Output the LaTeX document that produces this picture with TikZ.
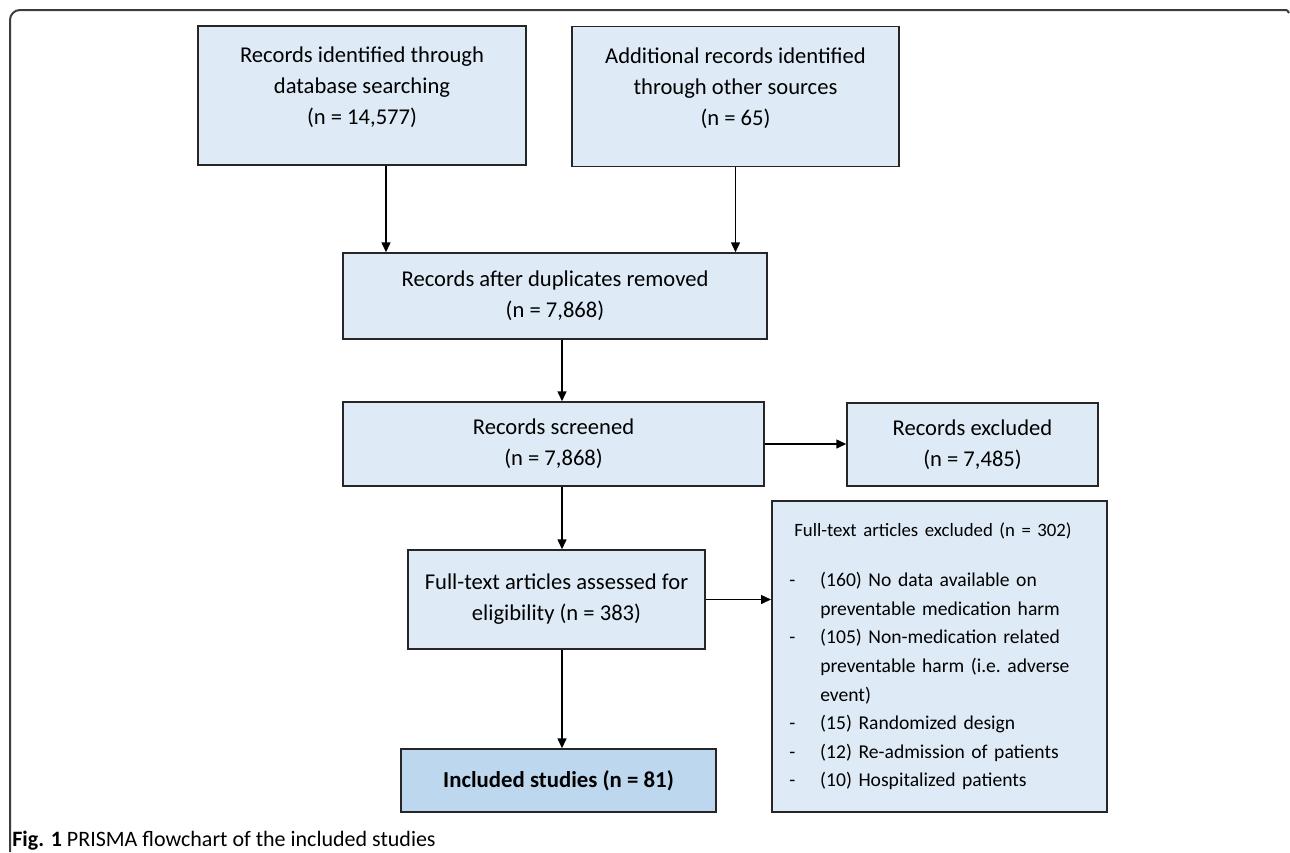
\documentclass[tikz,border=0pt]{standalone}
\usepackage{fontspec}
\setmainfont{Carlito}
\usetikzlibrary{arrows.meta}
\definecolor{boxfill}{HTML}{DEEBF7}
\definecolor{keyfill}{HTML}{BDD7EE}
\definecolor{boxline}{HTML}{262626}
\definecolor{framegray}{HTML}{3C3C3C}
\tikzset{
	stage/.style={draw=boxline,line width=0.75pt,fill=boxfill,align=center,inner sep=0pt,
		font=\fontsize{11.3}{15.5}\selectfont},
	flow/.style={-{Triangle[length=5pt,width=4.5pt]},line width=0.75pt}
}
\begin{document}
\begin{tikzpicture}[x=0.5pt,y=-0.5pt]
	\useasboundingbox (0,0) rectangle (1290,852);
	\draw[framegray,line width=1pt,rounded corners=5pt] (10,852)--(10,10)--(1287,10);
	\draw[framegray,line width=1pt] (1287,10)--(1289,13);
	\node[stage,minimum width=164pt,minimum height=69.5pt,text depth=10pt] (b1) at (362,95.5)
		{Records identified through\\database searching\\(n = 14,577)};
	\node[stage,minimum width=163.5pt,minimum height=70pt,text depth=10pt] (b2) at (735.5,96.5)
		{Additional records identified\\through other sources\\(n = 65)};
	\node[stage,minimum width=212pt,minimum height=43pt] (b3) at (555,296)
		{Records after duplicates removed\\(n = 7,868)};
	\node[stage,minimum width=210.5pt,minimum height=42pt] (b4) at (553.5,444)
		{Records screened\\(n = 7,868)};
	\node[stage,minimum width=125.5pt,minimum height=41.5pt] (excl) at (972.5,444.5)
		{Records excluded\\(n = 7,485)};
	\node[stage,minimum width=148.5pt,minimum height=49.5pt] (b5) at (556.5,599.5)
		{Full-text articles assessed for\\eligibility (n = 383)};
	\node[stage,fill=keyfill,minimum width=157.5pt,minimum height=31.5pt,font=\fontsize{11.4}{15.5}\selectfont\bfseries] (b6) at (558.5,780.5)
		{Included studies (n = 81)};
	\node[stage,anchor=north west,minimum width=167.5pt,minimum height=155.5pt,align=left,inner xsep=8.5pt,
		text width=150pt,font=\fontsize{9.8}{14.3}\selectfont\frenchspacing] (reasons) at (771,500)
		{\hspace*{2.5pt}{\fontsize{9.4}{14.3}\selectfont Full-text articles excluded (n = 302)}\\[11pt]
		\makebox[15.5pt][l]{-}(160) No data available on\\
		\hspace*{15.5pt}preventable medication harm\\
		\makebox[15.5pt][l]{-}(105) Non-medication related\\
		\hspace*{15.5pt}preventable harm (i.e. adverse\\
		\hspace*{15.5pt}event)\\
		\makebox[15.5pt][l]{-}(15) Randomized design\\
		\makebox[15.5pt][l]{-}(12) Re-admission of patients\\
		\makebox[15.5pt][l]{-}(10) Hospitalized patients};
	\node[anchor=base west,inner sep=0pt,font=\fontsize{11}{13}\selectfont] (cap) at (12,846)
		{\textbf{Fig. 1} PRISMA flowchart of the included studies};
	\coordinate (spine) at (562,0);
	\draw[flow] ([xshift=12pt]b1.south) -- ([xshift=12pt]b1.south |- b3.north);
	\draw[flow] (b2.south) -- (b2.south |- b3.north);
	\draw[flow] (b3.south -| spine) -- (b4.north -| spine);
	\draw[flow] (b4.south -| spine) -- (b5.north -| spine);
	\draw[flow] (b5.south -| spine) -- (b6.north -| spine);
	\draw[flow] (b4.east) -- (b4.east -| excl.west);
	\draw[flow] (b5.east) -- (b5.east -| reasons.west);
\end{tikzpicture}
\end{document}
